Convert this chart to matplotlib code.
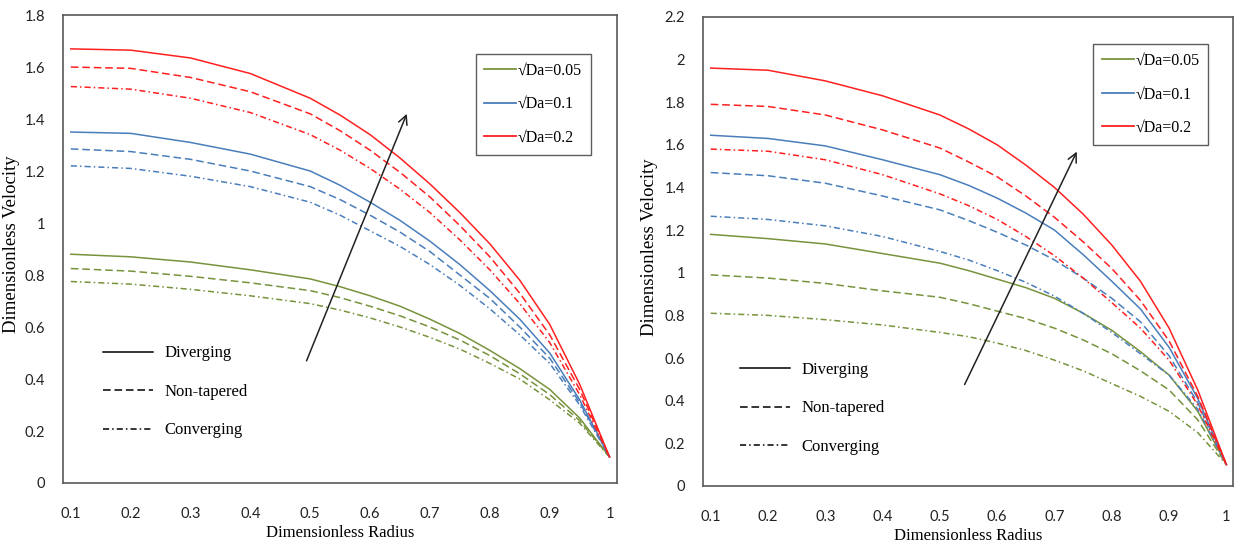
import matplotlib.pyplot as plt
from matplotlib.lines import Line2D

# radial positions
radius = [0.1, 0.2, 0.3, 0.4, 0.5, 0.55, 0.6, 0.65, 0.7, 0.75, 0.8, 0.85, 0.9, 0.95, 1.0]
radius_ticks = [0.1, 0.2, 0.3, 0.4, 0.5, 0.6, 0.7, 0.8, 0.9, 1.0]
radius_tick_labels = ["0.1", "0.2", "0.3", "0.4", "0.5", "0.6", "0.7", "0.8", "0.9", "1"]

# left panel: velocity for sqrt(Da) = 0.05 / 0.1 / 0.2
left_div_005 = [0.88, 0.87, 0.85, 0.82, 0.785, 0.755, 0.72, 0.68, 0.63, 0.575, 0.51, 0.44, 0.36, 0.25, 0.10]
left_non_005 = [0.825, 0.815, 0.795, 0.77, 0.74, 0.713, 0.68, 0.643, 0.60, 0.55, 0.49, 0.42, 0.34, 0.24, 0.10]
left_con_005 = [0.775, 0.765, 0.745, 0.72, 0.69, 0.665, 0.635, 0.60, 0.56, 0.515, 0.46, 0.40, 0.32, 0.23, 0.10]
left_div_01 = [1.35, 1.345, 1.31, 1.265, 1.20, 1.145, 1.08, 1.01, 0.93, 0.84, 0.74, 0.63, 0.50, 0.32, 0.10]
left_non_01 = [1.285, 1.275, 1.245, 1.20, 1.14, 1.09, 1.03, 0.965, 0.89, 0.80, 0.71, 0.60, 0.48, 0.31, 0.10]
left_con_01 = [1.22, 1.21, 1.18, 1.14, 1.08, 1.03, 0.97, 0.91, 0.84, 0.76, 0.67, 0.57, 0.46, 0.30, 0.10]
left_div_02 = [1.67, 1.665, 1.635, 1.575, 1.48, 1.415, 1.34, 1.25, 1.15, 1.04, 0.92, 0.78, 0.61, 0.38, 0.10]
left_non_02 = [1.60, 1.595, 1.56, 1.505, 1.42, 1.355, 1.28, 1.195, 1.10, 0.99, 0.87, 0.73, 0.57, 0.36, 0.10]
left_con_02 = [1.525, 1.515, 1.48, 1.425, 1.34, 1.28, 1.21, 1.13, 1.04, 0.935, 0.82, 0.69, 0.54, 0.34, 0.10]

# right panel
right_div_005 = [1.18, 1.16, 1.135, 1.09, 1.045, 1.01, 0.97, 0.93, 0.88, 0.81, 0.73, 0.63, 0.52, 0.35, 0.10]
right_non_005 = [0.99, 0.975, 0.95, 0.915, 0.885, 0.855, 0.82, 0.785, 0.74, 0.685, 0.62, 0.54, 0.45, 0.31, 0.10]
right_con_005 = [0.81, 0.80, 0.78, 0.755, 0.72, 0.70, 0.67, 0.635, 0.59, 0.54, 0.48, 0.42, 0.35, 0.25, 0.10]
right_div_01 = [1.645, 1.63, 1.595, 1.53, 1.46, 1.41, 1.35, 1.28, 1.20, 1.085, 0.96, 0.83, 0.65, 0.41, 0.10]
right_non_01 = [1.47, 1.455, 1.42, 1.36, 1.295, 1.245, 1.19, 1.13, 1.06, 0.975, 0.88, 0.77, 0.61, 0.39, 0.10]
right_con_01 = [1.265, 1.25, 1.22, 1.17, 1.10, 1.06, 1.01, 0.955, 0.89, 0.81, 0.72, 0.62, 0.52, 0.36, 0.10]
right_div_02 = [1.96, 1.95, 1.90, 1.83, 1.74, 1.675, 1.60, 1.505, 1.40, 1.275, 1.13, 0.96, 0.74, 0.45, 0.10]
right_non_02 = [1.79, 1.78, 1.74, 1.67, 1.585, 1.52, 1.45, 1.36, 1.26, 1.145, 1.02, 0.87, 0.68, 0.42, 0.10]
right_con_02 = [1.58, 1.57, 1.53, 1.46, 1.37, 1.315, 1.25, 1.17, 1.08, 0.975, 0.86, 0.74, 0.59, 0.38, 0.10]

da_labels = ["\u221aDa=0.05", "\u221aDa=0.1", "\u221aDa=0.2"]
shape_labels = ["Diverging", "Non-tapered", "Converging"]
colors = ["#77933C", "#4A7EBB", "#FF2020"]
dash_styles = ["-", (0, (5, 2.5)), (0, (4, 2, 1, 2))]

serif = ["Liberation Serif", "DejaVu Serif"]
tick_font = "Lato"

fig = plt.figure(figsize=(12.36, 5.46), dpi=100)
ax1 = fig.add_axes([0.051, 0.1154, 0.448, 0.857])
ax2 = fig.add_axes([0.569, 0.110, 0.4288, 0.859])

left_sets = [
    [left_div_005, left_non_005, left_con_005],
    [left_div_01, left_non_01, left_con_01],
    [left_div_02, left_non_02, left_con_02],
]
right_sets = [
    [right_div_005, right_non_005, right_con_005],
    [right_div_01, right_non_01, right_con_01],
    [right_div_02, right_non_02, right_con_02],
]


def draw_panel(ax, sets, ymax, arrow_tail, arrow_head, da_anchor, style_anchor, ylabel_x):
    for color, group in zip(colors, sets):
        for ls, vals in zip(dash_styles, group):
            ax.plot(radius, vals, color=color, linestyle=ls, linewidth=1.1)

    ax.set_xlim(0.087, 1.012)
    ax.set_ylim(0, ymax)
    ax.set_xticks(radius_ticks)
    ax.set_xticklabels(radius_tick_labels)
    yt = [round(0.2 * i, 1) for i in range(int(round(ymax / 0.2)) + 1)]
    ax.set_yticks(yt)
    ax.set_yticklabels(["0" if v == 0 else ("%g" % v) for v in yt])
    ax.tick_params(length=0, labelsize=10.5, colors="#222222")
    ax.tick_params(axis="x", pad=17)
    ax.tick_params(axis="y", pad=13)
    for lab in ax.get_xticklabels() + ax.get_yticklabels():
        lab.set_fontfamily(tick_font)
    for sp in ax.spines.values():
        sp.set_color("#595959")
        sp.set_linewidth(1.2)

    ax.set_xlabel("Dimensionless Radius", family=serif, fontsize=12, labelpad=3)
    ax.set_ylabel("Dimensionless Velocity", family=serif, fontsize=13.5)
    ax.yaxis.set_label_coords(ylabel_x, 0.51)

    ax.annotate("", xy=arrow_head, xytext=arrow_tail,
                arrowprops=dict(arrowstyle="->", color="#222222", lw=1.1,
                                mutation_scale=16))

    da_handles = [Line2D([], [], color=c, lw=1.3) for c in colors]
    leg = ax.legend(da_handles, da_labels, loc="upper right",
                    bbox_to_anchor=da_anchor, borderaxespad=0,
                    prop={"family": serif, "size": 11.5},
                    frameon=True, fancybox=False, handlelength=2.0, handletextpad=0.1,
                    labelspacing=1.1, borderpad=0.55, edgecolor="#333333")
    leg.get_frame().set_linewidth(1.0)
    ax.add_artist(leg)

    style_handles = [Line2D([], [], color="black", lw=1.1, linestyle=ls) for ls in dash_styles]
    ax.legend(style_handles, shape_labels, loc="lower left", bbox_to_anchor=style_anchor,
              borderaxespad=0, prop={"family": serif, "size": 12}, frameon=False,
              handlelength=3.0, handletextpad=0.7, labelspacing=1.35)


draw_panel(ax1, left_sets, 1.8, (0.492, 0.46), (0.663, 1.43),
           (0.953, 0.917), (0.06, 0.081), -0.078)
draw_panel(ax2, right_sets, 2.2, (0.541, 0.464), (0.741, 1.58),
           (0.953, 0.942), (0.057, 0.052), -0.085)

fig.savefig("out.png", dpi=100)
